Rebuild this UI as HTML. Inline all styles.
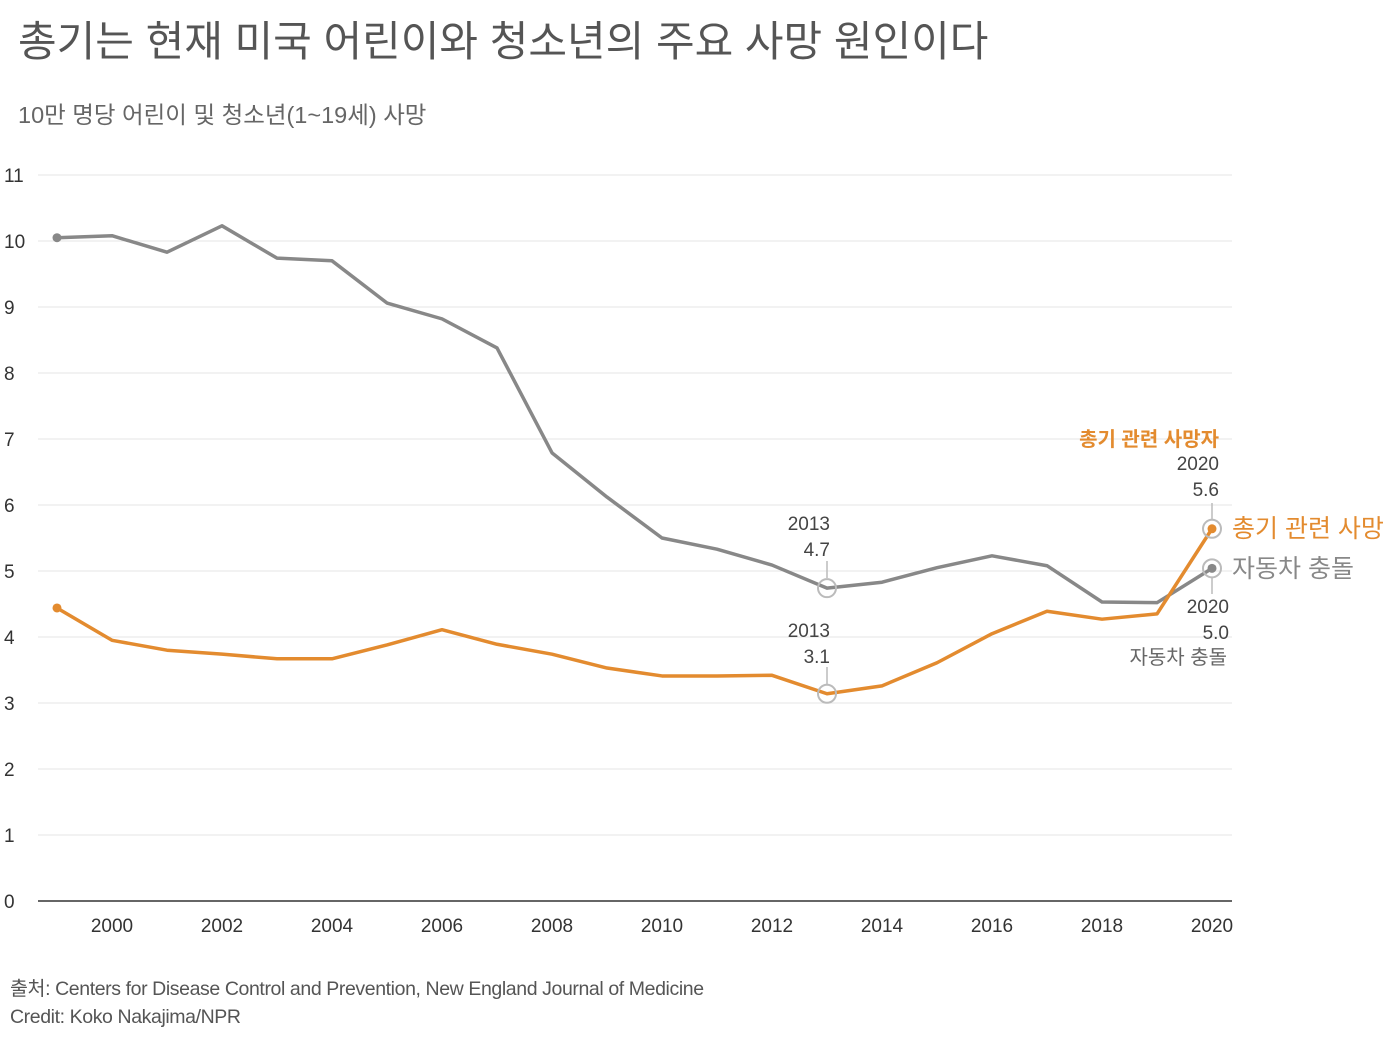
<!DOCTYPE html>
<html><head><meta charset="utf-8"><style>
body{margin:0;background:#fff;width:1390px;height:1032px;overflow:hidden;font-family:"Liberation Sans","Noto Sans CJK KR",sans-serif;}
</style></head><body>
<svg width="1390" height="1032" style="font-family:'Liberation Sans','Noto Sans CJK KR',sans-serif">
<text x="18" y="56" font-size="42" fill="#555">총기는 현재 미국 어린이와 청소년의 주요 사망 원인이다</text>
<text x="18" y="123" font-size="23.5" fill="#666">10만 명당 어린이 및 청소년(1~19세) 사망</text>
<g id="grid"></g><g id="axes"></g><g id="lines"></g><g id="ann"></g>
<text x="10" y="995" font-size="19.5" fill="#555" letter-spacing="-0.4">출처: Centers for Disease Control and Prevention, New England Journal of Medicine</text>
<text x="10" y="1023" font-size="19.5" fill="#555" letter-spacing="-0.4">Credit: Koko Nakajima/NPR</text>
</svg>
<script>
const years=[1999,2000,2001,2002,2003,2004,2005,2006,2007,2008,2009,2010,2011,2012,2013,2014,2015,2016,2017,2018,2019,2020];
const carCrash=[10.05,10.08,9.83,10.23,9.74,9.70,9.06,8.82,8.38,6.79,6.12,5.50,5.33,5.09,4.74,4.83,5.05,5.23,5.08,4.53,4.52,5.04];
const gunDeaths=[4.44,3.95,3.80,3.74,3.67,3.67,3.88,4.11,3.89,3.74,3.53,3.41,3.41,3.42,3.14,3.26,3.61,4.05,4.39,4.27,4.35,5.64];
const yTicks=[0,1,2,3,4,5,6,7,8,9,10,11];
const xTicks=[2000,2002,2004,2006,2008,2010,2012,2014,2016,2018,2020];
const NS="http://www.w3.org/2000/svg";
const X=y=>112+(y-2000)*55, Y=v=>901-v*66;
function mk(t,a,p,txt){const e=document.createElementNS(NS,t);for(const k in a)e.setAttribute(k,a[k]);if(txt!==undefined)e.textContent=txt;document.getElementById(p).appendChild(e);return e;}
yTicks.forEach(v=>{
 const l=mk('line',{x1:38,x2:1232,y1:Y(v),y2:Y(v),stroke:v===0?'#333':'#e6e6e6','stroke-width':v===0?1.5:1},'grid');
 
 
 const t=mk('text',{x:4,y:Y(v)+7,'font-size':19,fill:'#333'},'axes',String(v));
 
 
});
xTicks.forEach(v=>{
 const t=mk('text',{x:X(v),y:932,'font-size':19,fill:'#333','text-anchor':'middle'},'axes',String(v));
 
 
});
function line(vals,col,name){
 const p=mk('polyline',{points:vals.map((v,i)=>X(years[i])+','+Y(v)).join(' '),fill:'none',stroke:col,'stroke-width':3.5,'stroke-linejoin':'round'},'lines');
 
 
 [0,vals.length-1].forEach(i=>{const c=mk('circle',{cx:X(years[i]),cy:Y(vals[i]),r:4.5,fill:col},'lines');
 
 });
}
line(carCrash,'#888','car-crash');
line(gunDeaths,'#e38b2f','gun-deaths');
function ring(yr,v,name){const c=mk('circle',{cx:X(yr),cy:Y(v),r:9,fill:'none',stroke:'#bbb','stroke-width':2},'ann');
 
 }
function txt(x,y,s,col,sz,anchor,name,w){const t=mk('text',{x:x,y:y,'font-size':sz,fill:col,'text-anchor':anchor,'font-weight':w||'normal'},'ann',s);
 
 }
function tick(x,y1,y2){mk('line',{x1:x,x2:x,y1:y1,y2:y2,stroke:'#bbb','stroke-width':1.5},'ann');}
const i13=years.indexOf(2013), i20=years.length-1;
ring(2013,carCrash[i13],'car-2013-marker');tick(X(2013),561,578);
txt(830,530,'2013','#444',19,'end','car-2013-year');txt(830,556,carCrash[i13].toFixed(1),'#444',19,'end','car-2013-value');
ring(2013,gunDeaths[i13],'gun-2013-marker');tick(X(2013),667,684);
txt(830,637,'2013','#444',19,'end','gun-2013-year');txt(830,663,gunDeaths[i13].toFixed(1),'#444',19,'end','gun-2013-value');
ring(2020,gunDeaths[i20],'gun-2020-marker');ring(2020,carCrash[i20],'car-2020-marker');
tick(X(2020),503,520);tick(X(2020),577,594);
txt(1219,446,'총기 관련 사망자','#e38b2f',20,'end','gun-2020-label','bold');
txt(1219,470,'2020','#444',19,'end','gun-2020-year');txt(1219,496,gunDeaths[i20].toFixed(1),'#444',19,'end','gun-2020-value');
txt(1229,613,'2020','#444',19,'end','car-2020-year');txt(1229,639,carCrash[i20].toFixed(1),'#444',19,'end','car-2020-value');
txt(1227,664,'자동차 충돌','#666',20,'end','car-2020-label');
txt(1232,537,'총기 관련 사망','#e38b2f',25,'start','legend-gun-deaths');
txt(1232,577,'자동차 충돌','#888',25,'start','legend-car-crash');
</script>
</body></html>
